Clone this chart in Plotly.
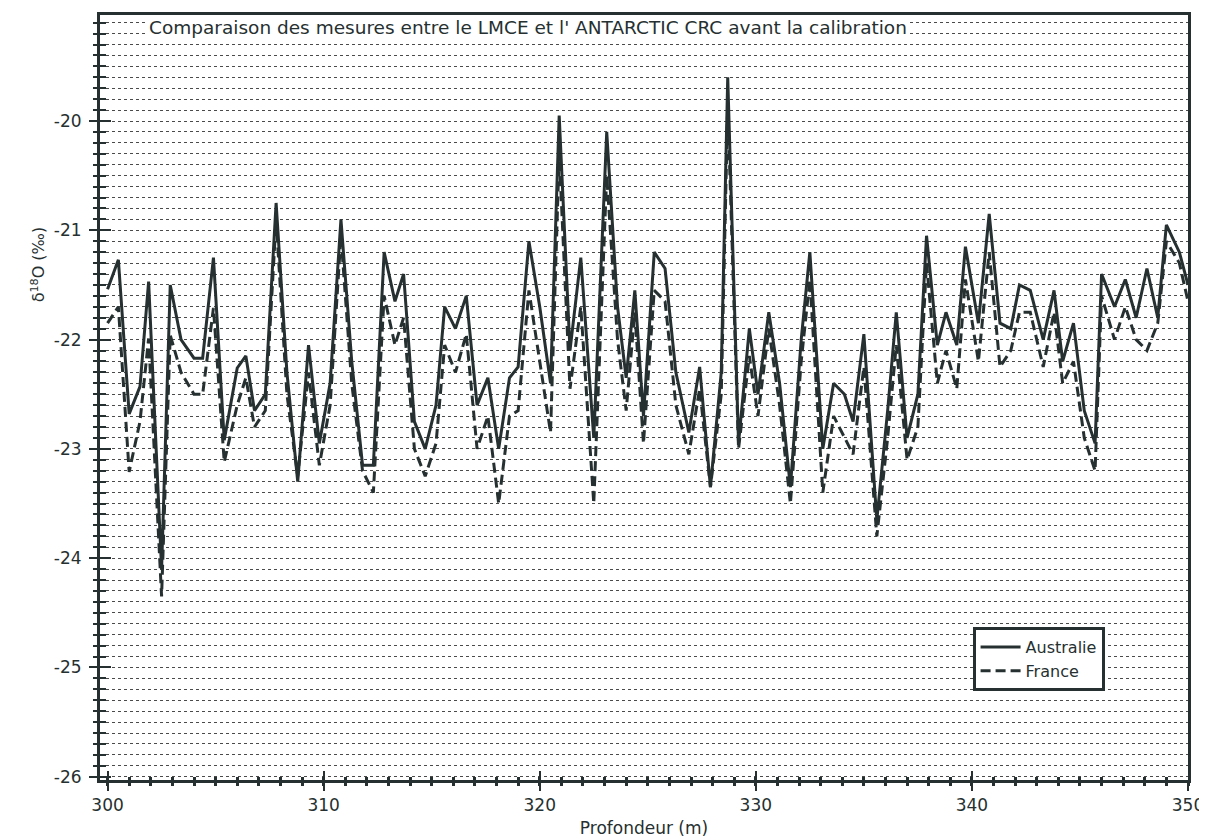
import plotly.graph_objects as go

depth = [300.0, 300.5, 301.0, 301.5, 301.9, 302.5, 302.9, 303.4, 304.0, 304.4,
         304.9, 305.4, 306.0, 306.4, 306.8, 307.3, 307.8, 308.3, 308.8, 309.3,
         309.8, 310.3, 310.8, 311.3, 311.8, 312.3, 312.8, 313.3, 313.7, 314.2,
         314.7, 315.2, 315.6, 316.1, 316.6, 317.1, 317.6, 318.1, 318.6, 319.0,
         319.5, 320.0, 320.5, 320.9, 321.4, 321.9, 322.5, 323.1, 323.6, 324.0,
         324.4, 324.8, 325.3, 325.8, 326.3, 326.9, 327.4, 327.9, 328.4, 328.7,
         329.2, 329.7, 330.1, 330.6, 331.1, 331.6, 332.1, 332.5, 333.1, 333.6,
         334.1, 334.5, 335.0, 335.6, 336.1, 336.5, 337.0, 337.5, 337.9, 338.4,
         338.8, 339.3, 339.7, 340.3, 340.8, 341.3, 341.8, 342.2, 342.7, 343.3,
         343.8, 344.2, 344.7, 345.2, 345.7, 346.0, 346.6, 347.1, 347.6, 348.1,
         348.6, 349.0, 349.6, 350.0]

australie = [-21.54, -21.27, -22.68, -22.43, -21.47, -24.1, -21.5, -22.0, -22.17, -22.17,
             -21.25, -22.92, -22.26, -22.15, -22.65, -22.5, -20.75, -22.3, -23.3, -22.05,
             -22.95, -22.4, -20.9, -22.2, -23.15, -23.15, -21.2, -21.65, -21.4, -22.75,
             -23.0, -22.6, -21.7, -21.9, -21.6, -22.6, -22.35, -23.0, -22.35, -22.25,
             -21.1, -21.7, -22.4, -19.95, -22.1, -21.25, -22.9, -20.1, -21.7, -22.35,
             -21.55, -22.7, -21.2, -21.35, -22.3, -22.85, -22.25, -23.35, -22.3, -19.6,
             -22.95, -21.9, -22.5, -21.75, -22.4, -23.35, -22.0, -21.2, -23.0, -22.4,
             -22.5, -22.75, -21.95, -23.65, -22.65, -21.75, -22.9, -22.5, -21.05, -22.05,
             -21.75, -22.05, -21.15, -21.85, -20.85, -21.85, -21.9, -21.5, -21.55, -22.0,
             -21.55, -22.2, -21.85, -22.65, -22.95, -21.4, -21.7, -21.45, -21.8, -21.35,
             -21.8, -20.95, -21.2, -21.5]

france = [-21.85, -21.7, -23.21, -22.75, -21.99, -24.35, -21.96, -22.3, -22.5, -22.5,
          -21.71, -23.12, -22.6, -22.35, -22.8, -22.65, -20.9, -22.5, -23.25, -22.3,
          -23.15, -22.6, -21.05, -22.4, -23.2, -23.4, -21.6, -22.05, -21.8, -23.0,
          -23.25, -22.95, -22.05, -22.3, -21.95, -23.0, -22.7, -23.5, -22.7, -22.65,
          -21.55, -22.2, -22.85, -20.3, -22.45, -21.7, -23.5, -20.5, -22.0, -22.65,
          -21.75, -22.95, -21.55, -21.65, -22.6, -23.05, -22.45, -23.35, -22.5, -19.85,
          -23.0, -22.15, -22.7, -21.9, -22.6, -23.5, -22.2, -21.45, -23.4, -22.7,
          -22.9, -23.05, -22.25, -23.8, -22.9, -22.05, -23.1, -22.8, -21.3, -22.4,
          -22.1, -22.45, -21.45, -22.2, -21.2, -22.25, -22.1, -21.75, -21.75, -22.25,
          -21.75, -22.4, -22.2, -22.9, -23.2, -21.6, -22.0, -21.7, -22.0, -22.1,
          -21.85, -21.1, -21.3, -21.65]

x_ticks = [300, 310, 320, 330, 340, 350]
x_labels = ["300", "310", "320", "330", "340", "350"]
y_ticks = [-26, -25, -24, -23, -22, -21, -20]
y_labels = ["-26", "-25", "-24", "-23", "-22", "-21", "-20"]
y_range = [-26.03, -19.03]
x_range = [299.65, 350]

title_text = "Comparaison des mesures entre le LMCE et l' ANTARCTIC CRC avant la calibration"
INK = "#263030"
FONT = "DejaVu Sans, Liberation Sans, sans-serif"

fig = go.Figure()
fig.add_trace(go.Scatter(x=depth, y=australie, mode="lines", name="Australie",
                         line=dict(color=INK, width=3)))
fig.add_trace(go.Scatter(x=depth, y=france, mode="lines", name="France",
                         line=dict(color=INK, width=3, dash="10px,5px")))
# empty helper trace so the overlay axes (inner half of crossing ticks) are drawn
fig.add_trace(go.Scatter(x=[], y=[], xaxis="x2", yaxis="y2", showlegend=False,
                         hoverinfo="skip"))

# the page body has an 8px margin, so the figure is sized/margined to fit the window
fig.update_layout(
    width=1199, height=832,
    margin=dict(l=92, r=19, t=7, b=60),
    paper_bgcolor="white", plot_bgcolor="white",
    font=dict(family=FONT, color=INK, size=17),
    showlegend=True,
    legend=dict(x=0.802, y=0.2, xanchor="left", yanchor="top",
                bgcolor="white", bordercolor=INK, borderwidth=3,
                font=dict(size=16, color=INK), itemwidth=40,
                entrywidth=112, tracegroupgap=0),
    xaxis=dict(range=x_range, tickvals=x_ticks, ticktext=x_labels,
               ticks="outside", ticklen=8, tickwidth=2, tickcolor=INK,
               showline=True, linewidth=3, linecolor=INK, mirror=True,
               showgrid=False, zeroline=False, automargin=False,
               tickfont=dict(size=17),
               minor=dict(dtick=1, tick0=300, ticks="outside", ticklen=3,
                          tickwidth=3, tickcolor=INK),
               title=dict(text="Profondeur (m)", font=dict(size=17), standoff=8)),
    yaxis=dict(range=y_range, tickvals=y_ticks, ticktext=y_labels,
               ticks="outside", ticklen=8, tickwidth=2, tickcolor=INK,
               showline=True, linewidth=3, linecolor=INK, mirror=True,
               zeroline=False, automargin=False, ticklabelstandoff=4,
               showgrid=True, gridcolor="#4a4a4a", gridwidth=1, griddash="dot",
               tickfont=dict(size=17),
               minor=dict(dtick=0.1, tick0=-26, showgrid=True, gridcolor="#4a4a4a",
                          gridwidth=1, griddash="dot", ticks="outside",
                          ticklen=4, tickwidth=2, tickcolor=INK)),
    xaxis2=dict(range=x_range, overlaying="x", anchor="y2", side="bottom",
                tickvals=x_ticks, ticks="inside", ticklen=9, tickwidth=2,
                tickcolor=INK, showticklabels=False, showgrid=False,
                showline=False, zeroline=False, automargin=False,
                minor=dict(dtick=1, tick0=300, ticks="inside", ticklen=3,
                           tickwidth=3, tickcolor=INK)),
    yaxis2=dict(range=y_range, overlaying="y", anchor="x2", side="left",
                tickvals=y_ticks, ticks="inside", ticklen=11, tickwidth=2,
                tickcolor=INK, showticklabels=False, showgrid=False,
                showline=False, zeroline=False, automargin=False,
                minor=dict(dtick=0.1, tick0=-26, ticks="inside", ticklen=6,
                           tickwidth=2, tickcolor=INK)),
)

fig.add_annotation(text="δ<sup>18</sup>O (‰)", xref="paper", yref="paper",
                   x=-0.057, y=0.674, xanchor="center", yanchor="middle",
                   textangle=-90, showarrow=False,
                   font=dict(size=16, color=INK))
fig.add_annotation(text=title_text, xref="paper", yref="paper",
                   x=0.043, y=0.984, xanchor="left", yanchor="middle",
                   showarrow=False, bgcolor="white",
                   font=dict(size=18.5, color=INK))

fig.write_html("out.html")
